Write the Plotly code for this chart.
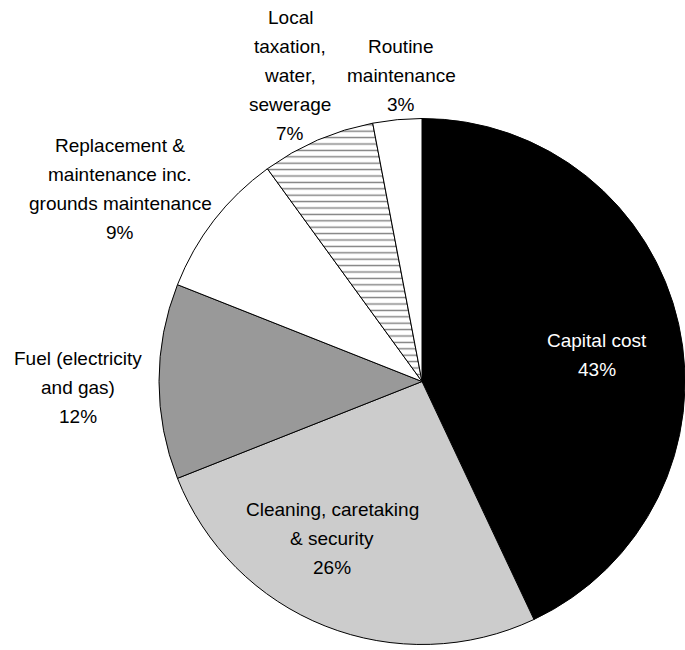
import plotly.graph_objects as go

# Building running costs breakdown
categories = [
    "Capital cost",
    "Cleaning, caretaking<br>& security",
    "Fuel (electricity<br>and gas)",
    "Replacement &<br>maintenance inc.<br>grounds maintenance",
    "Local<br>taxation,<br>water,<br>sewerage",
    "Routine<br>maintenance",
]
shares = [43, 26, 12, 9, 7, 3]

slice_colors = ["#000000", "#cccccc", "#999999", "#ffffff", "#ffffff", "#ffffff"]
slice_patterns = ["", "", "", "", "-", ""]
label_colors = ["#ffffff", "#000000", "#000000", "#000000", "#000000", "#000000"]

# label block centres in pixels (x, y from top)
label_pos = [
    (597, 355),
    (332, 538),
    (78, 387),
    (120, 189),
    (290, 75),
    (401, 75),
]
LINE_GAP = 29  # px between label lines

W, H = 685, 650
FONT = "Liberation Sans, Arial, Helvetica, sans-serif"

fig = go.Figure(
    go.Pie(
        values=shares,
        labels=[c.replace("<br>", " ") for c in categories],
        sort=False,
        direction="clockwise",
        rotation=0,
        textinfo="none",
        hoverinfo="label+percent",
        marker=dict(
            colors=slice_colors,
            line=dict(color="#000000", width=1),
            pattern=dict(
                shape=slice_patterns,
                fgcolor="#000000",
                bgcolor="#ffffff",
                size=6.4,
                solidity=0.22,
                fillmode="overlay",
            ),
        ),
        domain=dict(x=[159 / W, 1.0], y=[1 - 644.5 / H, 1 - 118.5 / H]),
        showlegend=False,
    )
)

for cat, val, (px, py), col in zip(categories, shares, label_pos, label_colors):
    lines = cat.split("<br>") + [f"{val}%"]
    n = len(lines)
    for i, line in enumerate(lines):
        offset = (i - (n - 1) / 2) * LINE_GAP
        fig.add_annotation(
            x=px / W,
            y=1 - (py + offset) / H,
            xref="paper",
            yref="paper",
            xanchor="center",
            yanchor="middle",
            align="center",
            showarrow=False,
            text=line,
            font=dict(family=FONT, size=19, color=col),
        )

fig.update_layout(
    width=W,
    height=H,
    margin=dict(l=0, r=0, t=0, b=0),
    paper_bgcolor="#ffffff",
    plot_bgcolor="#ffffff",
)

fig.write_html("out.html")
